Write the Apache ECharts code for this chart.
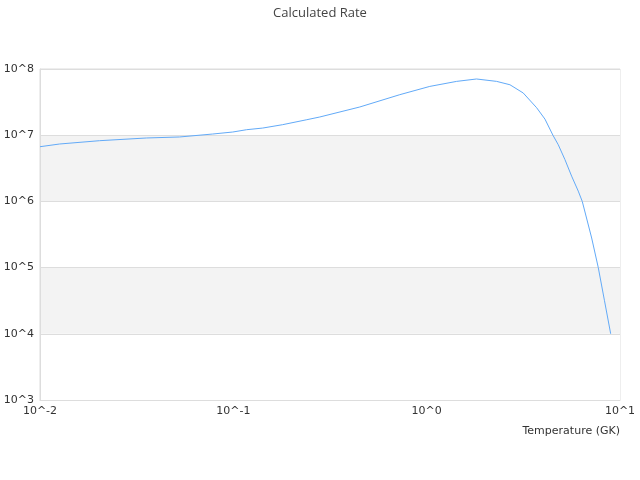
<!DOCTYPE html>
<html>
<head>
<meta charset="utf-8">
<script src="https://cdn.jsdelivr.net/npm/echarts@6/dist/echarts.min.js"></script>
<style>html,body{margin:0;padding:0;background:#fff}#c{width:640px;height:480px}</style>
</head>
<body>
<div id="c"></div>
<script>
var temperatures = [0.01, 0.01262, 0.02032, 0.0356, 0.0527, 0.0782, 0.0993, 0.1172, 0.1419, 0.1799, 0.2399, 0.280, 0.4508, 0.7261, 1.0375, 1.429, 1.811, 2.301, 2.696, 3.158, 3.705, 4.091, 4.498, 4.793, 5.192, 5.62, 6.083, 6.38, 7.136, 7.72, 8.314, 8.951];
var rates = [6.70e6, 7.36e6, 8.26e6, 9.08e6, 9.40e6, 1.042e7, 1.117e7, 1.211e7, 1.282e7, 1.442e7, 1.714e7, 1.884e7, 2.667e7, 4.093e7, 5.458e7, 6.501e7, 7.063e7, 6.501e7, 5.78e7, 4.34e7, 2.60e7, 1.75e7, 1.0e7, 7.18e6, 4.27e6, 2.41e6, 1.43e6, 1.0e6, 2.8e5, 1.0e5, 3.16e4, 1.0e4];
var titleText = 'Calculated Rate';
var xName = 'Temperature (GK)';

var chart = echarts.init(document.getElementById('c'));
var pts = temperatures.map(function (t, i) { return [t, rates[i]]; });
function pow10(v) { return '10^' + Math.round(Math.log10(v)); }
chart.setOption({
  animation: false,
  title: { text: titleText, left: 'center', top: 2, textStyle: { fontSize: 13, fontWeight: 'normal', color: '#444', fontFamily: 'Open Sans' } },
  grid: { left: 40, right: 20, top: 69, bottom: 80, show: true, borderColor: '#ddd', borderWidth: 1 },
  xAxis: {
    type: 'log', min: 0.01, max: 10, logBase: 10,
    name: xName, nameLocation: 'end', nameGap: 0,
    nameTextStyle: { align: 'right', verticalAlign: 'top', padding: [26, 0, 0, 0], color: '#333', fontSize: 11, fontFamily: 'DejaVu Sans' },
    axisLine: { lineStyle: { color: '#ddd' } },
    axisTick: { show: false },
    splitLine: { show: false },
    axisLabel: { formatter: pow10, color: '#333', fontSize: 11, fontFamily: 'DejaVu Sans', margin: 6 }
  },
  yAxis: {
    type: 'log', min: 1e3, max: 1e8, logBase: 10,
    axisLine: { show: true, lineStyle: { color: '#ddd' } },
    axisTick: { show: false },
    splitLine: { show: true, lineStyle: { color: '#ddd' } },
    splitArea: { show: true, areaStyle: { color: ['#f3f3f3', '#ffffff'] } },
    axisLabel: { formatter: pow10, color: '#333', fontSize: 11, fontFamily: 'DejaVu Sans', margin: 6 }
  },
  series: [{
    type: 'line', data: pts, showSymbol: false, smooth: false,
    lineStyle: { color: '#62aaf8', width: 1 }
  }]
});
</script>
</body>
</html>
